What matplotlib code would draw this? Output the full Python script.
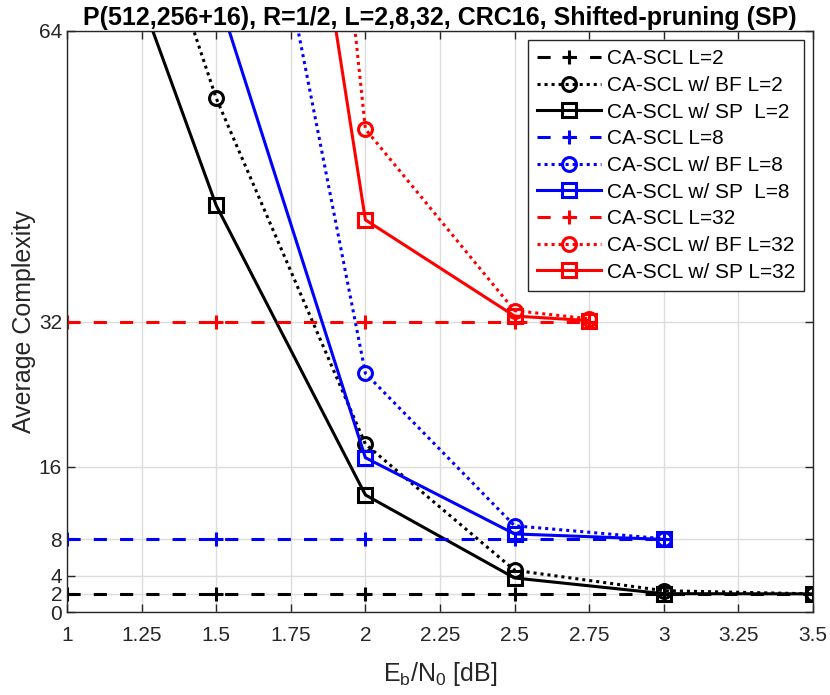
import matplotlib
matplotlib.use("Agg")
import matplotlib.pyplot as plt

plt.rcParams['font.family'] = ['Liberation Sans', 'DejaVu Sans']
plt.rcParams['mathtext.default'] = 'regular'

# ---- data ----
x_L2 = [1, 1.5, 2, 2.5, 3, 3.5]
cascl_L2 = [2, 2, 2, 2, 2, 2]
bf_L2 = [106, 56.6, 18.5, 4.6, 2.35, 2.0]
sp_L2 = [90, 44.8, 12.9, 3.75, 2.02, 2.0]

x_L8 = [1, 1.5, 2, 2.5, 3]
cascl_L8 = [8, 8, 8, 8, 8]
x_L8c = [1.5, 2, 2.5, 3]
bf_L8 = [110, 26.3, 9.5, 8.07]
sp_L8 = [68.5, 17.0, 8.6, 8.0]

x_L32 = [1, 1.5, 2, 2.5, 2.75]
cascl_L32 = [32, 32, 32, 32, 32]
x_L32c = [1.5, 2, 2.5, 2.75]
bf_L32 = [210, 53.2, 33.2, 32.3]
sp_L32 = [149, 43.2, 32.6, 32.1]

xticks = [1, 1.25, 1.5, 1.75, 2, 2.25, 2.5, 2.75, 3, 3.25, 3.5]
xticklabels = ['1', '1.25', '1.5', '1.75', '2', '2.25', '2.5', '2.75', '3', '3.25', '3.5']
yticks = [0, 2, 4, 8, 16, 32, 64]

title = 'P(512,256+16), R=1/2, L=2,8,32, CRC16, Shifted-pruning (SP)'

fig = plt.figure(figsize=(8.3, 6.95), dpi=100)
ax = fig.add_axes([0.0807, 0.1194, 0.8988, 0.836])

lw = 2.2
ms = 10
dash = (0, (4.3, 4.3))
dot = (0, (1, 1.3))

series = [
    (x_L2, cascl_L2, 'k', dash, '+', 'CA-SCL L=2'),
    (x_L2, bf_L2, 'k', dot, 'o', 'CA-SCL w/ BF L=2'),
    (x_L2, sp_L2, 'k', '-', 's', 'CA-SCL w/ SP  L=2'),
    (x_L8, cascl_L8, 'b', dash, '+', 'CA-SCL L=8'),
    (x_L8c, bf_L8, 'b', dot, 'o', 'CA-SCL w/ BF L=8'),
    (x_L8c, sp_L8, 'b', '-', 's', 'CA-SCL w/ SP  L=8'),
    (x_L32, cascl_L32, 'r', dash, '+', 'CA-SCL L=32'),
    (x_L32c, bf_L32, 'r', dot, 'o', 'CA-SCL w/ BF L=32'),
    (x_L32c, sp_L32, 'r', '-', 's', 'CA-SCL w/ SP L=32'),
]
for xs, ys, c, ls, mk, lab in series:
    ax.plot(xs, ys, color=c, linestyle=ls, linewidth=lw, marker=mk,
            markersize=ms if mk != 's' else 9.5, markerfacecolor='none',
            markeredgecolor=c, markeredgewidth=2.2, label=lab, clip_on=True)

ax.set_xlim(1, 3.5)
ax.set_ylim(0, 64)
ax.set_xticks(xticks)
ax.set_xticklabels(xticklabels)
ax.set_yticks(yticks)
ax.grid(True, color='#dcdcdc', linewidth=1)
ax.set_axisbelow(True)
for s in ax.spines.values():
    s.set_color('#262626')
    s.set_linewidth(1)
ax.tick_params(direction='in', top=True, right=True, length=6, width=1,
               colors='#262626', labelsize=15, labelcolor='#262626')
ax.tick_params(axis='x', pad=10)
ax.set_xlabel(r'E$_b$/N$_0$ [dB]', fontsize=18, color='#262626', labelpad=11)
ax.set_ylabel('Average Complexity', fontsize=18, color='#262626', labelpad=2)
ax.set_title(title, fontsize=18, fontweight='bold', pad=4)

leg = ax.legend(loc='upper right', fontsize=15, frameon=True, fancybox=False,
                handlelength=3.1, handletextpad=0.25, borderaxespad=0.45,
                labelspacing=0.37, borderpad=0.42)
leg.get_frame().set_edgecolor('#262626')
leg.get_frame().set_linewidth(1)
leg.get_frame().set_alpha(1)

fig.savefig('out.png', dpi=100)
